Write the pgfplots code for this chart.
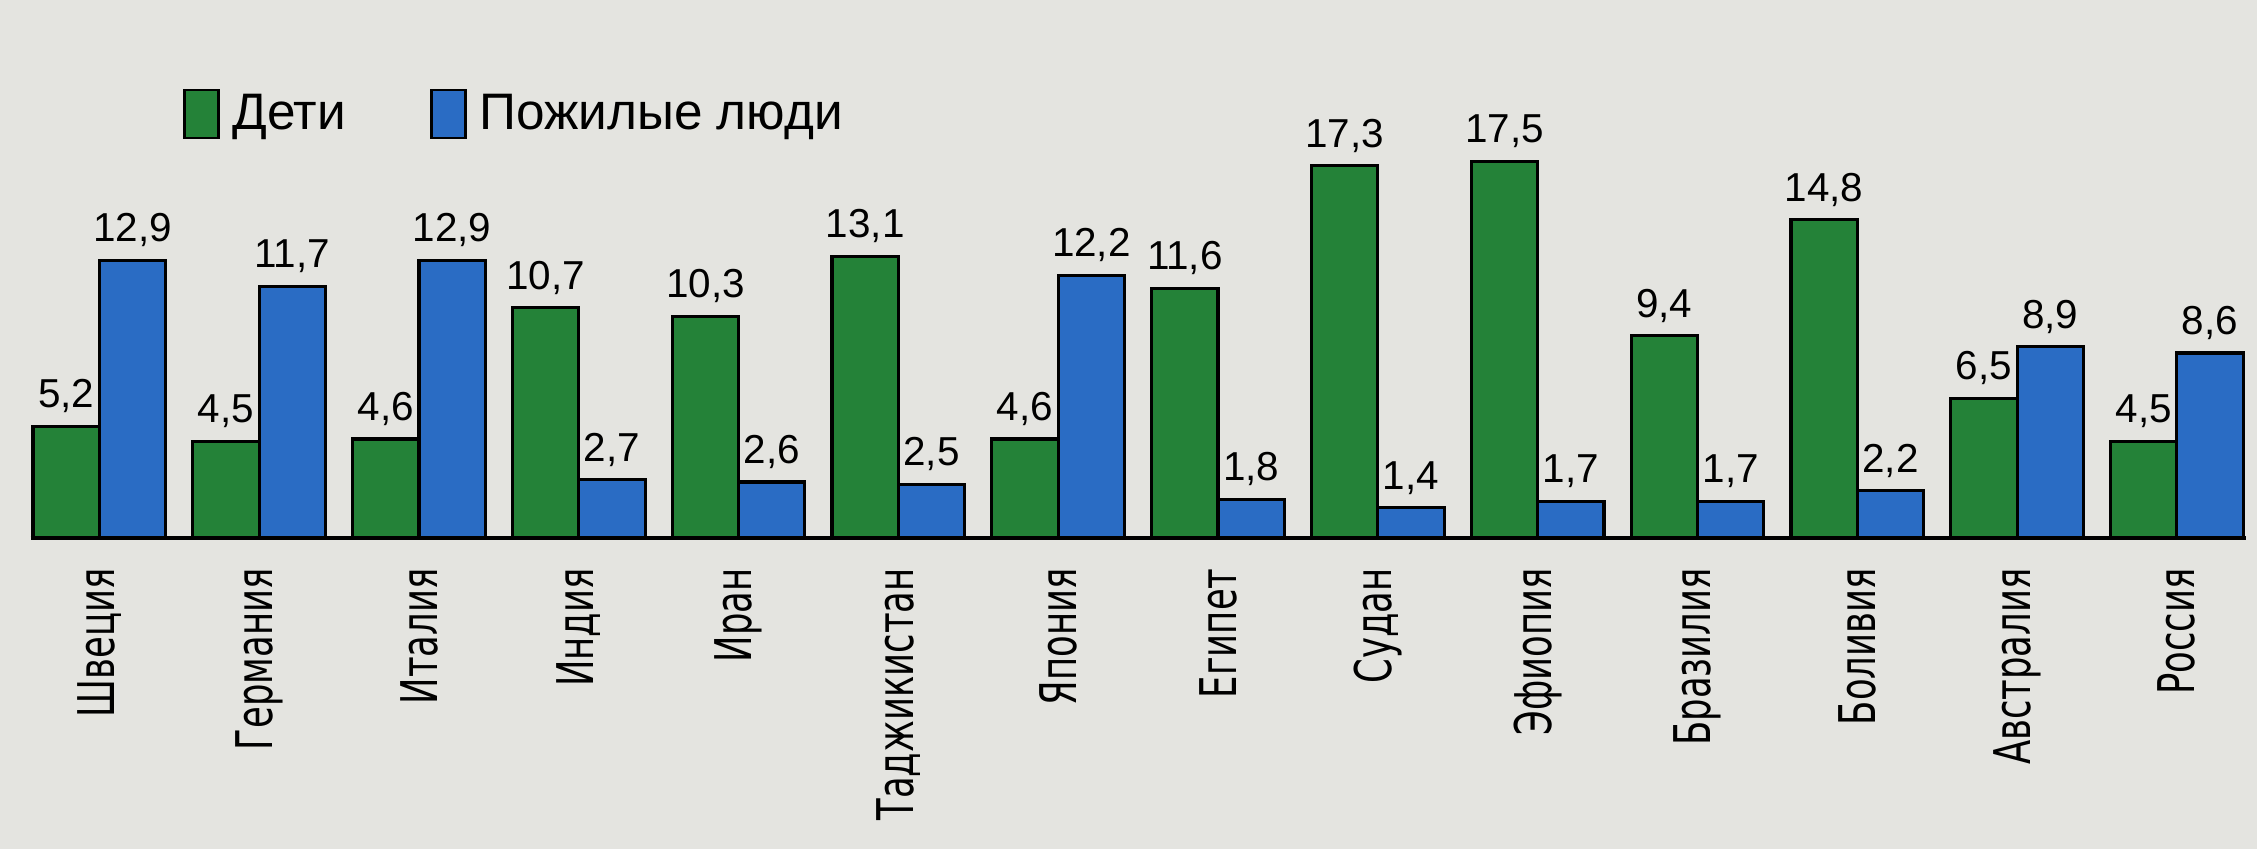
\documentclass[border=0pt]{standalone}
\usepackage{graphicx}
\usepackage{pgfplots}
\pgfplotsset{compat=1.18}
\usepackage{fontspec}
\setmainfont{Liberation Sans}
\newfontfamily\catfont{DejaVu Sans}
\newcommand{\cl}[1]{\scalebox{0.70}[1]{#1}}
\definecolor{kids}{RGB}{36,130,56}
\definecolor{old}{RGB}{42,108,196}
\definecolor{bg}{RGB}{228,228,224}
\pgfplotsset{sqlegend/.style={legend image code/.code={\path[draw=none,fill=none] (0cm,0cm) -- (0.41cm,0cm);\draw[##1,draw=black,line width=0.8pt] (0cm,-0.24cm) rectangle (0.34cm,0.24cm);}}}
\begin{document}
\begin{tikzpicture}
\fill[bg] (0,0) rectangle (22.57cm,8.49cm);
\begin{axis}[
  at={(0.306cm,3.11cm)}, anchor=south west,
  scale only axis, width=22.15cm, height=5.38cm,
  xmin=-0.43, xmax=13.43, ymin=0, ymax=25.0,
  axis x line*=bottom, axis y line=none,
  x axis line style={-, line width=1.2pt},
  xtick={0,...,13},
  xticklabels={\cl{Швеция},\cl{Германия},\cl{Италия},\cl{Индия},\cl{Иран},\cl{Таджикистан},\cl{Япония},\cl{Египет},\cl{Судан},\cl{Эфиопия},\cl{Бразилия},\cl{Боливия},\cl{Австралия},\cl{Россия}},
  major tick length=0pt,
  xticklabel shift=0.18cm,
  xticklabel style={rotate=90, anchor=east, font=\catfont\fontsize{14.4}{16}\selectfont},
  ybar, bar width=0.415,
  nodes near coords={\pgfmathprintnumber[fixed,fixed zerofill,precision=1,use comma,assume math mode=true]{\pgfplotspointmeta}},
  every node near coord/.append style={font=\fontsize{11.5}{13}\selectfont, text=black},
  legend style={at={(axis description cs:0.0684,0.788)}, anchor=west, draw=none, fill=none, inner sep=0pt,
    font=\fontsize{14.6}{16}\selectfont, /tikz/every even column/.append style={column sep=0.77cm}},
  legend columns=2, legend cell align=left,
]
\addplot[fill=kids, draw=black, line width=0.9pt, bar shift=-0.2075, sqlegend] coordinates {
(0,5.2) (1,4.5) (2,4.6) (3,10.7) (4,10.3) (5,13.1) (6,4.6) (7,11.6) (8,17.3) (9,17.5) (10,9.4) (11,14.8) (12,6.5) (13,4.5)};
\addplot[fill=old, draw=black, line width=0.9pt, bar shift=0.2075, sqlegend] coordinates {
(0,12.9) (1,11.7) (2,12.9) (3,2.7) (4,2.6) (5,2.5) (6,12.2) (7,1.8) (8,1.4) (9,1.7) (10,1.7) (11,2.2) (12,8.9) (13,8.6)};
\legend{Дети, Пожилые люди}
\end{axis}
\pgfresetboundingbox
\useasboundingbox (0,0) rectangle (22.57cm,8.49cm);
\end{tikzpicture}
\end{document}
